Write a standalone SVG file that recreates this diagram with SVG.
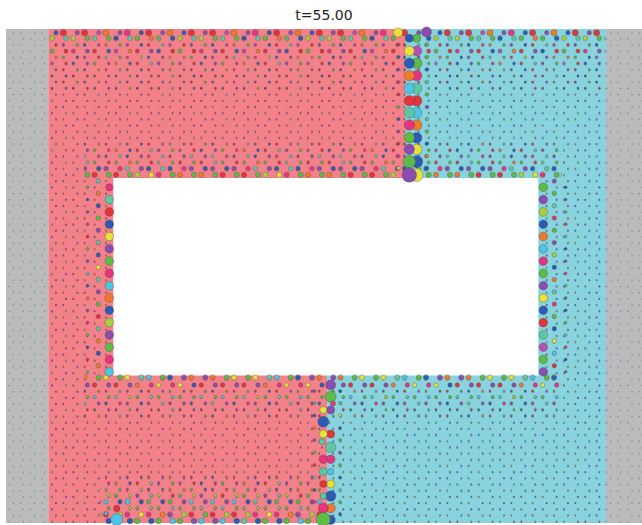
<svg xmlns="http://www.w3.org/2000/svg" width="642" height="525" viewBox="0 0 642 525">
<style>
.t{font-family:"DejaVu Sans",sans-serif;font-size:14px;fill:#222}
circle{stroke:#444;stroke-opacity:.7;stroke-width:.5}
#bulk circle,#gdots circle{stroke:none}
.a{fill:#E5323B}.b{fill:#2B5BB5}.c{fill:#5DBB46}.d{fill:#E6E23A}.e{fill:#8B4DB0}.f{fill:#F07A2A}.g{fill:#4FC4E4}.h{fill:#E8337F}.i{fill:#5EC7A3}.j{fill:#A9D13F}.k{fill:#B94FB5}
.m1{fill:#6d2a45;fill-opacity:.7}.m2{fill:#244a7a;fill-opacity:.7}.m3{fill:#2f6e4a;fill-opacity:.65}.m4{fill:#7a4a1e;fill-opacity:.65}.m5{fill:#4a2e82;fill-opacity:.7}.m6{fill:#3b3b3b;fill-opacity:.6}
</style>
<defs>
<pattern id="bulk" patternUnits="userSpaceOnUse" x="50" y="29.6" width="64" height="24.76">
<circle cx="6" cy="3.1" r="1.05" class="m1"/><circle cx="13.3" cy="3.1" r="1.05" class="m2"/><circle cx="27.33" cy="3.1" r="1.05" class="m6"/><circle cx="34.63" cy="3.1" r="1.05" class="m3"/><circle cx="48.67" cy="3.1" r="1.05" class="m5"/><circle cx="55.97" cy="3.1" r="1.05" class="m4"/>
<circle cx="16" cy="9.29" r="1.05" class="m3"/><circle cx="23.3" cy="9.29" r="1.05" class="m6"/><circle cx="37.33" cy="9.29" r="1.05" class="m1"/><circle cx="44.63" cy="9.29" r="1.05" class="m2"/><circle cx="58.67" cy="9.29" r="1.05" class="m6"/><circle cx="1.97" cy="9.29" r="1.05" class="m5"/>
<circle cx="6" cy="15.48" r="1.05" class="m6"/><circle cx="13.3" cy="15.48" r="1.05" class="m4"/><circle cx="27.33" cy="15.48" r="1.05" class="m2"/><circle cx="34.63" cy="15.48" r="1.05" class="m1"/><circle cx="48.67" cy="15.48" r="1.05" class="m3"/><circle cx="55.97" cy="15.48" r="1.05" class="m6"/>
<circle cx="16" cy="21.67" r="1.05" class="m5"/><circle cx="23.3" cy="21.67" r="1.05" class="m1"/><circle cx="37.33" cy="21.67" r="1.05" class="m6"/><circle cx="44.63" cy="21.67" r="1.05" class="m4"/><circle cx="58.67" cy="21.67" r="1.05" class="m2"/><circle cx="1.97" cy="21.67" r="1.05" class="m3"/>
</pattern>
<pattern id="gdots" patternUnits="userSpaceOnUse" x="50" y="29.6" width="64" height="24.76">
<g fill="#7a7a80">
<circle cx="6" cy="3.1" r="0.7"/><circle cx="13.3" cy="3.1" r="0.7"/><circle cx="27.33" cy="3.1" r="0.7"/><circle cx="34.63" cy="3.1" r="0.7"/><circle cx="48.67" cy="3.1" r="0.7"/><circle cx="55.97" cy="3.1" r="0.7"/>
<circle cx="16" cy="9.29" r="0.7"/><circle cx="23.3" cy="9.29" r="0.7"/><circle cx="37.33" cy="9.29" r="0.7"/><circle cx="44.63" cy="9.29" r="0.7"/><circle cx="58.67" cy="9.29" r="0.7"/><circle cx="1.97" cy="9.29" r="0.7"/>
<circle cx="6" cy="15.48" r="0.7"/><circle cx="13.3" cy="15.48" r="0.7"/><circle cx="27.33" cy="15.48" r="0.7"/><circle cx="34.63" cy="15.48" r="0.7"/><circle cx="48.67" cy="15.48" r="0.7"/><circle cx="55.97" cy="15.48" r="0.7"/>
<circle cx="16" cy="21.67" r="0.7"/><circle cx="23.3" cy="21.67" r="0.7"/><circle cx="37.33" cy="21.67" r="0.7"/><circle cx="44.63" cy="21.67" r="0.7"/><circle cx="58.67" cy="21.67" r="0.7"/><circle cx="1.97" cy="21.67" r="0.7"/>
</g>
</pattern>
<pattern id="P1" patternUnits="userSpaceOnUse" x="52" width="128" height="8">
<circle cx="4" cy="4" r="2.2" class="b"/><circle cx="11.3" cy="4" r="3.1" class="a"/><circle cx="25.3" cy="4" r="2.2" class="e"/><circle cx="32.6" cy="4" r="3.1" class="a"/><circle cx="46.7" cy="4" r="2.2" class="k"/><circle cx="54" cy="4" r="3.1" class="f"/><circle cx="68" cy="4" r="2.2" class="e"/><circle cx="75.3" cy="4" r="3.1" class="h"/><circle cx="89.3" cy="4" r="2.2" class="b"/><circle cx="96.6" cy="4" r="3.1" class="a"/><circle cx="110.7" cy="4" r="2.2" class="e"/><circle cx="118" cy="4" r="3.1" class="f"/>
</pattern>
<pattern id="P2" patternUnits="userSpaceOnUse" x="62" width="128" height="8">
<circle cx="4" cy="4" r="2.4" class="i"/><circle cx="11.3" cy="4" r="2.4" class="j"/><circle cx="25.3" cy="4" r="2.4" class="c"/><circle cx="32.6" cy="4" r="2.4" class="i"/><circle cx="46.7" cy="4" r="2.4" class="c"/><circle cx="54" cy="4" r="2.4" class="b"/><circle cx="68" cy="4" r="2.4" class="i"/><circle cx="75.3" cy="4" r="2.4" class="c"/><circle cx="89.3" cy="4" r="2.4" class="f"/><circle cx="96.6" cy="4" r="2.4" class="c"/><circle cx="110.7" cy="4" r="2.4" class="b"/><circle cx="118" cy="4" r="2.4" class="j"/>
</pattern>
<pattern id="P3" patternUnits="userSpaceOnUse" x="52" width="128" height="8">
<circle cx="4" cy="4" r="1.4" class="a"/><circle cx="11.3" cy="4" r="1.4" class="e"/><circle cx="25.3" cy="4" r="1.4" class="c"/><circle cx="32.6" cy="4" r="1.4" class="b"/><circle cx="46.7" cy="4" r="1.4" class="h"/><circle cx="54" cy="4" r="1.4" class="f"/><circle cx="68" cy="4" r="1.4" class="c"/><circle cx="75.3" cy="4" r="1.4" class="e"/><circle cx="89.3" cy="4" r="1.4" class="b"/><circle cx="96.6" cy="4" r="1.4" class="a"/><circle cx="110.7" cy="4" r="1.4" class="i"/><circle cx="118" cy="4" r="1.4" class="k"/>
</pattern>
<pattern id="P4" patternUnits="userSpaceOnUse" x="62" width="128" height="8">
<circle cx="4" cy="4" r="2" class="a"/><circle cx="11.3" cy="4" r="2" class="h"/><circle cx="25.3" cy="4" r="2" class="e"/><circle cx="32.6" cy="4" r="2" class="a"/><circle cx="46.7" cy="4" r="2" class="b"/><circle cx="54" cy="4" r="2" class="k"/><circle cx="68" cy="4" r="2" class="f"/><circle cx="75.3" cy="4" r="2" class="a"/><circle cx="89.3" cy="4" r="2" class="e"/><circle cx="96.6" cy="4" r="2" class="b"/><circle cx="110.7" cy="4" r="2" class="a"/><circle cx="118" cy="4" r="2" class="c"/>
</pattern>
<pattern id="P5" patternUnits="userSpaceOnUse" x="52" width="128" height="8">
<circle cx="4" cy="4" r="1.3" class="f"/><circle cx="11.3" cy="4" r="1.3" class="c"/><circle cx="25.3" cy="4" r="1.3" class="b"/><circle cx="32.6" cy="4" r="1.3" class="e"/><circle cx="46.7" cy="4" r="1.3" class="a"/><circle cx="54" cy="4" r="1.3" class="i"/><circle cx="68" cy="4" r="1.3" class="c"/><circle cx="75.3" cy="4" r="1.3" class="h"/><circle cx="89.3" cy="4" r="1.3" class="j"/><circle cx="96.6" cy="4" r="1.3" class="b"/><circle cx="110.7" cy="4" r="1.3" class="e"/><circle cx="118" cy="4" r="1.3" class="f"/>
</pattern>
<pattern id="P6" patternUnits="userSpaceOnUse" x="62" width="128" height="8">
<circle cx="4" cy="4" r="1.4" class="a"/><circle cx="11.3" cy="4" r="1.4" class="b"/><circle cx="25.3" cy="4" r="1.4" class="e"/><circle cx="32.6" cy="4" r="1.4" class="c"/><circle cx="46.7" cy="4" r="1.4" class="h"/><circle cx="54" cy="4" r="1.4" class="f"/><circle cx="68" cy="4" r="1.4" class="b"/><circle cx="75.3" cy="4" r="1.4" class="a"/><circle cx="89.3" cy="4" r="1.4" class="i"/><circle cx="96.6" cy="4" r="1.4" class="e"/><circle cx="110.7" cy="4" r="1.4" class="c"/><circle cx="118" cy="4" r="1.4" class="k"/>
</pattern>
<pattern id="P7" patternUnits="userSpaceOnUse" x="52" width="128" height="8">
<circle cx="4" cy="4" r="1.1" class="e"/><circle cx="11.3" cy="4" r="1.1" class="a"/><circle cx="25.3" cy="4" r="1.1" class="c"/><circle cx="32.6" cy="4" r="1.1" class="b"/><circle cx="46.7" cy="4" r="1.1" class="f"/><circle cx="54" cy="4" r="1.1" class="h"/><circle cx="68" cy="4" r="1.1" class="i"/><circle cx="75.3" cy="4" r="1.1" class="e"/><circle cx="89.3" cy="4" r="1.1" class="b"/><circle cx="96.6" cy="4" r="1.1" class="a"/><circle cx="110.7" cy="4" r="1.1" class="k"/><circle cx="118" cy="4" r="1.1" class="c"/>
</pattern>
<pattern id="P8" patternUnits="userSpaceOnUse" x="62" width="128" height="8">
<circle cx="4" cy="4" r="1.1" class="b"/><circle cx="11.3" cy="4" r="1.1" class="m1"/><circle cx="25.3" cy="4" r="1.1" class="a"/><circle cx="32.6" cy="4" r="1.1" class="m3"/><circle cx="46.7" cy="4" r="1.1" class="e"/><circle cx="54" cy="4" r="1.1" class="m2"/><circle cx="68" cy="4" r="1.1" class="c"/><circle cx="75.3" cy="4" r="1.1" class="m5"/><circle cx="89.3" cy="4" r="1.1" class="h"/><circle cx="96.6" cy="4" r="1.1" class="m4"/><circle cx="110.7" cy="4" r="1.1" class="i"/><circle cx="118" cy="4" r="1.1" class="m1"/>
</pattern>
<pattern id="H1" patternUnits="userSpaceOnUse" x="62" width="128" height="8">
<circle cx="4" cy="4" r="2.6" class="c"/><circle cx="11.3" cy="4" r="2.6" class="f"/><circle cx="25.3" cy="4" r="2.6" class="c"/><circle cx="32.6" cy="4" r="2.6" class="a"/><circle cx="46.7" cy="4" r="2.6" class="c"/><circle cx="54" cy="4" r="2.6" class="a"/><circle cx="68" cy="4" r="2.6" class="c"/><circle cx="75.3" cy="4" r="2.6" class="j"/><circle cx="89.3" cy="4" r="2.6" class="d"/><circle cx="96.6" cy="4" r="2.6" class="h"/><circle cx="110.7" cy="4" r="2.6" class="c"/><circle cx="118" cy="4" r="2.6" class="f"/>
</pattern>
<pattern id="H2" patternUnits="userSpaceOnUse" x="52" width="128" height="8">
<circle cx="4" cy="4" r="2.3" class="h"/><circle cx="11.3" cy="4" r="2.3" class="e"/><circle cx="25.3" cy="4" r="2.3" class="b"/><circle cx="32.6" cy="4" r="2.3" class="e"/><circle cx="46.7" cy="4" r="2.3" class="b"/><circle cx="54" cy="4" r="2.3" class="e"/><circle cx="68" cy="4" r="2.3" class="h"/><circle cx="75.3" cy="4" r="2.3" class="i"/><circle cx="89.3" cy="4" r="2.3" class="e"/><circle cx="96.6" cy="4" r="2.3" class="b"/><circle cx="110.7" cy="4" r="2.3" class="i"/><circle cx="118" cy="4" r="2.3" class="b"/>
</pattern>
<pattern id="H3" patternUnits="userSpaceOnUse" x="62" width="128" height="8">
<circle cx="4" cy="4" r="1.5" class="c"/><circle cx="11.3" cy="4" r="1.5" class="a"/><circle cx="25.3" cy="4" r="1.5" class="i"/><circle cx="32.6" cy="4" r="1.5" class="c"/><circle cx="46.7" cy="4" r="1.5" class="a"/><circle cx="54" cy="4" r="1.5" class="c"/><circle cx="68" cy="4" r="1.5" class="f"/><circle cx="75.3" cy="4" r="1.5" class="c"/><circle cx="89.3" cy="4" r="1.5" class="a"/><circle cx="96.6" cy="4" r="1.5" class="i"/><circle cx="110.7" cy="4" r="1.5" class="c"/><circle cx="118" cy="4" r="1.5" class="a"/>
</pattern>
<pattern id="H4" patternUnits="userSpaceOnUse" x="52" width="128" height="8">
<circle cx="4" cy="4" r="1.4" class="e"/><circle cx="11.3" cy="4" r="1.4" class="i"/><circle cx="25.3" cy="4" r="1.4" class="e"/><circle cx="32.6" cy="4" r="1.4" class="g"/><circle cx="46.7" cy="4" r="1.4" class="h"/><circle cx="54" cy="4" r="1.4" class="e"/><circle cx="68" cy="4" r="1.4" class="i"/><circle cx="75.3" cy="4" r="1.4" class="b"/><circle cx="89.3" cy="4" r="1.4" class="e"/><circle cx="96.6" cy="4" r="1.4" class="h"/><circle cx="110.7" cy="4" r="1.4" class="g"/><circle cx="118" cy="4" r="1.4" class="e"/>
</pattern>
<pattern id="B1" patternUnits="userSpaceOnUse" x="52" width="128" height="8">
<circle cx="4" cy="4" r="2.6" class="e"/><circle cx="11.3" cy="4" r="2.6" class="f"/><circle cx="25.3" cy="4" r="2.6" class="e"/><circle cx="32.6" cy="4" r="2.6" class="f"/><circle cx="46.7" cy="4" r="2.6" class="c"/><circle cx="54" cy="4" r="2.6" class="d"/><circle cx="68" cy="4" r="2.6" class="c"/><circle cx="75.3" cy="4" r="2.6" class="d"/><circle cx="89.3" cy="4" r="2.6" class="i"/><circle cx="96.6" cy="4" r="2.6" class="g"/><circle cx="110.7" cy="4" r="2.6" class="c"/><circle cx="118" cy="4" r="2.6" class="b"/>
</pattern>
<pattern id="B2" patternUnits="userSpaceOnUse" x="62" width="128" height="8">
<circle cx="4" cy="4" r="2.2" class="b"/><circle cx="11.3" cy="4" r="2.2" class="a"/><circle cx="25.3" cy="4" r="2.2" class="e"/><circle cx="32.6" cy="4" r="2.2" class="a"/><circle cx="46.7" cy="4" r="2.2" class="e"/><circle cx="54" cy="4" r="2.2" class="a"/><circle cx="68" cy="4" r="2.2" class="e"/><circle cx="75.3" cy="4" r="2.2" class="f"/><circle cx="89.3" cy="4" r="2.2" class="h"/><circle cx="96.6" cy="4" r="2.2" class="d"/><circle cx="110.7" cy="4" r="2.2" class="h"/><circle cx="118" cy="4" r="2.2" class="d"/>
</pattern>
<pattern id="B3" patternUnits="userSpaceOnUse" x="62" width="128" height="8">
<circle cx="4" cy="4" r="1.6" class="c"/><circle cx="11.3" cy="4" r="1.6" class="i"/><circle cx="25.3" cy="4" r="1.6" class="c"/><circle cx="32.6" cy="4" r="1.6" class="g"/><circle cx="46.7" cy="4" r="1.6" class="c"/><circle cx="54" cy="4" r="1.6" class="i"/><circle cx="68" cy="4" r="1.6" class="j"/><circle cx="75.3" cy="4" r="1.6" class="c"/><circle cx="89.3" cy="4" r="1.6" class="i"/><circle cx="96.6" cy="4" r="1.6" class="c"/><circle cx="110.7" cy="4" r="1.6" class="g"/><circle cx="118" cy="4" r="1.6" class="c"/>
</pattern>
<pattern id="B4" patternUnits="userSpaceOnUse" x="52" width="128" height="8">
<circle cx="4" cy="4" r="1.5" class="e"/><circle cx="11.3" cy="4" r="1.5" class="b"/><circle cx="25.3" cy="4" r="1.5" class="e"/><circle cx="32.6" cy="4" r="1.5" class="i"/><circle cx="46.7" cy="4" r="1.5" class="e"/><circle cx="54" cy="4" r="1.5" class="b"/><circle cx="68" cy="4" r="1.5" class="h"/><circle cx="75.3" cy="4" r="1.5" class="e"/><circle cx="89.3" cy="4" r="1.5" class="b"/><circle cx="96.6" cy="4" r="1.5" class="e"/><circle cx="110.7" cy="4" r="1.5" class="i"/><circle cx="118" cy="4" r="1.5" class="e"/>
</pattern>
<pattern id="W1" patternUnits="userSpaceOnUse" x="62" width="128" height="8">
<circle cx="4" cy="4" r="2.8" class="e"/><circle cx="11.3" cy="4" r="2.8" class="g"/><circle cx="25.3" cy="4" r="2.8" class="e"/><circle cx="32.6" cy="4" r="2.8" class="g"/><circle cx="46.7" cy="4" r="2.8" class="b"/><circle cx="54" cy="4" r="2.8" class="i"/><circle cx="68" cy="4" r="2.8" class="b"/><circle cx="75.3" cy="4" r="2.8" class="c"/><circle cx="89.3" cy="4" r="2.8" class="b"/><circle cx="96.6" cy="4" r="2.8" class="c"/><circle cx="110.7" cy="4" r="2.8" class="g"/><circle cx="118" cy="4" r="2.8" class="c"/>
</pattern>
<pattern id="W2" patternUnits="userSpaceOnUse" x="52" width="128" height="8">
<circle cx="4" cy="4" r="2.6" class="j"/><circle cx="11.3" cy="4" r="2.6" class="a"/><circle cx="25.3" cy="4" r="2.6" class="c"/><circle cx="32.6" cy="4" r="2.6" class="a"/><circle cx="46.7" cy="4" r="2.6" class="j"/><circle cx="54" cy="4" r="2.6" class="a"/><circle cx="68" cy="4" r="2.6" class="j"/><circle cx="75.3" cy="4" r="2.6" class="h"/><circle cx="89.3" cy="4" r="2.6" class="d"/><circle cx="96.6" cy="4" r="2.6" class="h"/><circle cx="110.7" cy="4" r="2.6" class="f"/><circle cx="118" cy="4" r="2.6" class="e"/>
</pattern>
<pattern id="W3" patternUnits="userSpaceOnUse" x="52" width="128" height="8">
<circle cx="4" cy="4" r="2.2" class="e"/><circle cx="11.3" cy="4" r="2.2" class="g"/><circle cx="25.3" cy="4" r="2.2" class="e"/><circle cx="32.6" cy="4" r="2.2" class="g"/><circle cx="46.7" cy="4" r="2.2" class="e"/><circle cx="54" cy="4" r="2.2" class="g"/><circle cx="68" cy="4" r="2.2" class="b"/><circle cx="75.3" cy="4" r="2.2" class="i"/><circle cx="89.3" cy="4" r="2.2" class="b"/><circle cx="96.6" cy="4" r="2.2" class="c"/><circle cx="110.7" cy="4" r="2.2" class="b"/><circle cx="118" cy="4" r="2.2" class="c"/>
</pattern>
<pattern id="W4" patternUnits="userSpaceOnUse" x="62" width="128" height="8">
<circle cx="4" cy="4" r="1.7" class="j"/><circle cx="11.3" cy="4" r="1.7" class="e"/><circle cx="25.3" cy="4" r="1.7" class="j"/><circle cx="32.6" cy="4" r="1.7" class="a"/><circle cx="46.7" cy="4" r="1.7" class="j"/><circle cx="54" cy="4" r="1.7" class="c"/><circle cx="68" cy="4" r="1.7" class="j"/><circle cx="75.3" cy="4" r="1.7" class="e"/><circle cx="89.3" cy="4" r="1.7" class="i"/><circle cx="96.6" cy="4" r="1.7" class="j"/><circle cx="110.7" cy="4" r="1.7" class="a"/><circle cx="118" cy="4" r="1.7" class="c"/>
</pattern>
</defs>

<text class="t" x="324" y="20" text-anchor="middle">t=55.00</text>

<g id="background">
<rect x="6" y="29" width="42.3" height="494" fill="#BBBBBE"/>
<rect x="606" y="29" width="36" height="494" fill="#BBBBBE"/>
<rect x="48.3" y="29" width="557.7" height="494" fill="#F3818A"/>
<polygon points="405,29 606,29 606,523 327,523 327,376 405,178" fill="#88D3DE"/>
<rect x="6" y="29" width="42.3" height="494" fill="url(#gdots)"/>
<rect x="606" y="29" width="36" height="494" fill="url(#gdots)"/>
<rect x="48.3" y="29" width="557.7" height="494" fill="url(#bulk)"/>
</g>

<rect id="obstacle" x="113.3" y="178" width="425" height="197.5" fill="#FFFFFF"/>

<g id="wall-rows">
<rect x="48" y="0" width="557" height="8" fill="url(#P1)" transform="translate(0,28.7)"/>
<rect x="48" y="0" width="557" height="8" fill="url(#P2)" transform="translate(0,34.3)"/>
<rect x="48" y="0" width="557" height="8" fill="url(#P3)" transform="translate(0,40.9)"/>
<rect x="48" y="0" width="557" height="8" fill="url(#P4)" transform="translate(0,47.1)"/>
<rect x="48" y="0" width="557" height="8" fill="url(#P5)" transform="translate(0,53.3)"/>
<rect x="48" y="0" width="557" height="8" fill="url(#P6)" transform="translate(0,59.5)"/>
<rect x="48" y="0" width="557" height="8" fill="url(#P7)" transform="translate(0,65.7)"/>
<rect x="48" y="0" width="557" height="8" fill="url(#P8)" transform="translate(0,71.9)"/>
<rect x="48" y="0" width="557" height="8" fill="url(#P7)" transform="translate(0,78.1)"/>
<rect x="48" y="0" width="557" height="8" fill="url(#P8)" transform="translate(0,84.3)"/>
<rect x="84" y="0" width="478" height="8" fill="url(#P7)" transform="translate(0,140.1)"/>
<rect x="84" y="0" width="478" height="8" fill="url(#P6)" transform="translate(0,146.3)"/>
<rect x="84" y="0" width="478" height="8" fill="url(#H4)" transform="translate(0,152.3)"/>
<rect x="84" y="0" width="478" height="8" fill="url(#H3)" transform="translate(0,158.4)"/>
<rect x="84" y="0" width="478" height="8" fill="url(#H2)" transform="translate(0,164.6)"/>
<rect x="84" y="0" width="478" height="8" fill="url(#H1)" transform="translate(0,170.8)"/>
<rect x="84" y="0" width="478" height="8" fill="url(#P7)" transform="translate(0,411.7)"/>
<rect x="84" y="0" width="478" height="8" fill="url(#P8)" transform="translate(0,405.5)"/>
<rect x="84" y="0" width="478" height="8" fill="url(#B4)" transform="translate(0,399.3)"/>
<rect x="84" y="0" width="478" height="8" fill="url(#B3)" transform="translate(0,393)"/>
<rect x="84" y="0" width="478" height="8" fill="url(#P7)" transform="translate(0,387)"/>
<rect x="84" y="0" width="478" height="8" fill="url(#B2)" transform="translate(0,381)"/>
<rect x="84" y="0" width="478" height="8" fill="url(#B1)" transform="translate(0,373.5)"/>
<rect x="100" y="0" width="222" height="8" fill="url(#P7)" transform="translate(0,472.9)"/>
<rect x="100" y="0" width="222" height="8" fill="url(#P6)" transform="translate(0,479.1)"/>
<rect x="100" y="0" width="222" height="8" fill="url(#P5)" transform="translate(0,485.3)"/>
<rect x="100" y="0" width="222" height="8" fill="url(#W4)" transform="translate(0,491.5)"/>
<rect x="100" y="0" width="222" height="8" fill="url(#W3)" transform="translate(0,497.7)"/>
<rect x="100" y="0" width="222" height="8" fill="url(#B3)" transform="translate(0,503.9)"/>
<rect x="100" y="0" width="222" height="8" fill="url(#W2)" transform="translate(0,510.5)"/>
<rect x="100" y="0" width="222" height="8" fill="url(#W1)" transform="translate(0,517)"/>
</g>

<g id="left-wall">
<circle cx="87.5" cy="187.3" r="1.4" class="c"/><circle cx="87.5" cy="199.6" r="1.4" class="b"/><circle cx="87.5" cy="211.9" r="1.4" class="e"/><circle cx="87.5" cy="224.2" r="1.4" class="h"/><circle cx="87.5" cy="236.5" r="1.4" class="a"/><circle cx="87.5" cy="248.8" r="1.4" class="c"/><circle cx="87.5" cy="261.1" r="1.4" class="e"/><circle cx="87.5" cy="273.4" r="1.4" class="i"/><circle cx="87.5" cy="285.7" r="1.4" class="b"/><circle cx="87.5" cy="298" r="1.4" class="f"/><circle cx="87.5" cy="310.3" r="1.4" class="e"/><circle cx="87.5" cy="322.6" r="1.4" class="h"/><circle cx="87.5" cy="334.9" r="1.4" class="c"/><circle cx="87.5" cy="347.2" r="1.4" class="b"/><circle cx="87.5" cy="359.5" r="1.4" class="a"/><circle cx="87.5" cy="371.8" r="1.4" class="i"/>
<circle cx="98.3" cy="181.1" r="2.2" class="i"/><circle cx="98.3" cy="193.4" r="2.2" class="f"/><circle cx="98.3" cy="205.7" r="2.2" class="b"/><circle cx="98.3" cy="218" r="2.2" class="c"/><circle cx="98.3" cy="230.3" r="2.2" class="e"/><circle cx="98.3" cy="242.6" r="2.2" class="i"/><circle cx="98.3" cy="254.9" r="2.2" class="b"/><circle cx="98.3" cy="267.2" r="2.2" class="d"/><circle cx="98.3" cy="279.5" r="2.2" class="i"/><circle cx="98.3" cy="291.8" r="2.2" class="e"/><circle cx="98.3" cy="304.1" r="2.2" class="c"/><circle cx="98.3" cy="316.4" r="2.2" class="a"/><circle cx="98.3" cy="328.7" r="2.2" class="i"/><circle cx="98.3" cy="341" r="2.2" class="f"/><circle cx="98.3" cy="353.3" r="2.2" class="b"/><circle cx="98.3" cy="365.6" r="2.2" class="f"/>
<circle cx="109.3" cy="187.3" r="3.6" class="h"/><circle cx="109.3" cy="199.6" r="4.3" class="i"/><circle cx="109.3" cy="211.9" r="4.3" class="a"/><circle cx="109.3" cy="224.2" r="4.3" class="b"/><circle cx="109.3" cy="236.5" r="4.3" class="d"/><circle cx="109.3" cy="248.8" r="4.3" class="e"/><circle cx="109.3" cy="261.1" r="4.3" class="c"/><circle cx="109.3" cy="273.4" r="4.3" class="h"/><circle cx="109.3" cy="285.7" r="4.3" class="g"/><circle cx="109.3" cy="298" r="4.3" class="f"/><circle cx="109.3" cy="310.3" r="4.3" class="b"/><circle cx="109.3" cy="322.6" r="4.3" class="j"/><circle cx="109.3" cy="334.9" r="4.3" class="e"/><circle cx="109.3" cy="347.2" r="4.3" class="c"/><circle cx="109.3" cy="359.5" r="4.3" class="h"/><circle cx="109.3" cy="371.8" r="4.3" class="g"/>
</g>

<g id="right-wall">
<circle cx="565.7" cy="187.3" r="1.4" class="b"/><circle cx="565.7" cy="199.6" r="1.4" class="e"/><circle cx="565.7" cy="211.9" r="1.4" class="c"/><circle cx="565.7" cy="224.2" r="1.4" class="a"/><circle cx="565.7" cy="236.5" r="1.4" class="i"/><circle cx="565.7" cy="248.8" r="1.4" class="b"/><circle cx="565.7" cy="261.1" r="1.4" class="e"/><circle cx="565.7" cy="273.4" r="1.4" class="h"/><circle cx="565.7" cy="285.7" r="1.4" class="c"/><circle cx="565.7" cy="298" r="1.4" class="e"/><circle cx="565.7" cy="310.3" r="1.4" class="b"/><circle cx="565.7" cy="322.6" r="1.4" class="c"/><circle cx="565.7" cy="334.9" r="1.4" class="i"/><circle cx="565.7" cy="347.2" r="1.4" class="a"/><circle cx="565.7" cy="359.5" r="1.4" class="b"/><circle cx="565.7" cy="371.8" r="1.4" class="e"/>
<circle cx="554.3" cy="181.1" r="2.2" class="e"/><circle cx="554.3" cy="193.4" r="2.2" class="c"/><circle cx="554.3" cy="205.7" r="2.2" class="i"/><circle cx="554.3" cy="218" r="2.2" class="h"/><circle cx="554.3" cy="230.3" r="2.2" class="c"/><circle cx="554.3" cy="242.6" r="2.2" class="e"/><circle cx="554.3" cy="254.9" r="2.2" class="j"/><circle cx="554.3" cy="267.2" r="2.2" class="b"/><circle cx="554.3" cy="279.5" r="2.2" class="f"/><circle cx="554.3" cy="291.8" r="2.2" class="i"/><circle cx="554.3" cy="304.1" r="2.2" class="h"/><circle cx="554.3" cy="316.4" r="2.2" class="c"/><circle cx="554.3" cy="328.7" r="2.2" class="b"/><circle cx="554.3" cy="341" r="2.2" class="d"/><circle cx="554.3" cy="353.3" r="2.2" class="g"/><circle cx="554.3" cy="365.6" r="2.2" class="a"/>
<circle cx="543.3" cy="187.3" r="4.3" class="c"/><circle cx="543.3" cy="199.6" r="4.3" class="e"/><circle cx="543.3" cy="211.9" r="4.3" class="j"/><circle cx="543.3" cy="224.2" r="4.3" class="b"/><circle cx="543.3" cy="236.5" r="4.3" class="f"/><circle cx="543.3" cy="248.8" r="4.3" class="g"/><circle cx="543.3" cy="261.1" r="4.3" class="h"/><circle cx="543.3" cy="273.4" r="4.3" class="c"/><circle cx="543.3" cy="285.7" r="4.3" class="e"/><circle cx="543.3" cy="298" r="4.3" class="d"/><circle cx="543.3" cy="310.3" r="4.3" class="b"/><circle cx="543.3" cy="322.6" r="4.3" class="a"/><circle cx="543.3" cy="334.9" r="4.3" class="i"/><circle cx="543.3" cy="347.2" r="4.3" class="k"/><circle cx="543.3" cy="359.5" r="4.3" class="c"/><circle cx="543.3" cy="371.8" r="4.3" class="e"/>
</g>

<g id="top-interface">
<circle cx="398.5" cy="44.5" r="1.6" class="a"/><circle cx="398.5" cy="57" r="1.6" class="b"/><circle cx="398.5" cy="69.5" r="1.6" class="e"/><circle cx="398.5" cy="82" r="1.6" class="h"/><circle cx="398.5" cy="94.5" r="1.6" class="a"/><circle cx="398.5" cy="107" r="1.6" class="c"/><circle cx="398.5" cy="119" r="1.6" class="b"/><circle cx="398.5" cy="131.5" r="1.6" class="e"/><circle cx="398.5" cy="143.5" r="1.6" class="a"/><circle cx="398.5" cy="156" r="1.6" class="h"/><circle cx="398.5" cy="168" r="1.6" class="d"/>
<circle cx="427" cy="44.5" r="1.8" class="c"/><circle cx="427" cy="57" r="1.8" class="c"/><circle cx="427" cy="69.5" r="1.8" class="b"/><circle cx="427" cy="82" r="1.8" class="i"/><circle cx="427" cy="94.5" r="1.8" class="c"/><circle cx="427" cy="107" r="1.8" class="e"/><circle cx="427" cy="119" r="1.8" class="i"/><circle cx="427" cy="131.5" r="1.8" class="c"/><circle cx="427" cy="143.5" r="1.8" class="b"/><circle cx="427" cy="156" r="1.8" class="f"/><circle cx="427" cy="168" r="1.8" class="b"/>
<circle cx="416.7" cy="38.3" r="4" class="c"/><circle cx="416.7" cy="51" r="5" class="k"/><circle cx="416.7" cy="63.3" r="5.2" class="c"/><circle cx="416.7" cy="75.6" r="5.2" class="h"/><circle cx="416.7" cy="88.3" r="5.2" class="i"/><circle cx="416.7" cy="100.7" r="5.2" class="a"/><circle cx="416.7" cy="112.7" r="5.2" class="g"/><circle cx="416.7" cy="125" r="5.2" class="f"/><circle cx="416.7" cy="137.7" r="5.2" class="b"/><circle cx="416.7" cy="149.3" r="5.2" class="d"/><circle cx="416.7" cy="161.7" r="6" class="b"/><circle cx="416.7" cy="175" r="6.5" class="d"/>
<circle cx="409.3" cy="38.3" r="4" class="b"/><circle cx="409.3" cy="51" r="5" class="d"/><circle cx="409.3" cy="63.3" r="5.2" class="b"/><circle cx="409.3" cy="75.6" r="5.2" class="f"/><circle cx="409.3" cy="88.3" r="5.2" class="g"/><circle cx="409.3" cy="100.7" r="5.2" class="a"/><circle cx="409.3" cy="112.7" r="5.2" class="i"/><circle cx="409.3" cy="125" r="5.2" class="h"/><circle cx="409.3" cy="137.7" r="5.2" class="c"/><circle cx="409.3" cy="149.3" r="5.2" class="e"/><circle cx="409.3" cy="161.7" r="6.3" class="c"/><circle cx="409.3" cy="175" r="7.3" class="e"/>
<circle cx="398" cy="32.5" r="4.6" class="d"/><circle cx="426.5" cy="32" r="5" class="e"/>
</g>

<g id="bottom-interface">
<circle cx="314.5" cy="391" r="1.5" class="e"/><circle cx="314.5" cy="403" r="1.5" class="c"/><circle cx="314.5" cy="415.5" r="1.5" class="b"/><circle cx="314.5" cy="428" r="1.5" class="f"/><circle cx="314.5" cy="440" r="1.5" class="e"/><circle cx="314.5" cy="452.5" r="1.5" class="c"/><circle cx="314.5" cy="465" r="1.5" class="a"/><circle cx="314.5" cy="477.5" r="1.5" class="i"/><circle cx="314.5" cy="490" r="1.5" class="b"/><circle cx="314.5" cy="502" r="1.5" class="h"/>
<circle cx="340" cy="391" r="1.5" class="b"/><circle cx="340" cy="403" r="1.5" class="i"/><circle cx="340" cy="415.5" r="1.5" class="d"/><circle cx="340" cy="428" r="1.5" class="b"/><circle cx="340" cy="440" r="1.5" class="c"/><circle cx="340" cy="452.5" r="1.5" class="e"/><circle cx="340" cy="465" r="1.5" class="c"/><circle cx="340" cy="477.5" r="1.5" class="b"/><circle cx="340" cy="490" r="1.5" class="i"/><circle cx="340" cy="502" r="1.5" class="c"/><circle cx="340" cy="514" r="1.5" class="b"/>
<circle cx="330.7" cy="385" r="5" class="e"/><circle cx="330.7" cy="396.7" r="5.5" class="c"/><circle cx="333" cy="403.5" r="2.5" class="h"/><circle cx="330.7" cy="410" r="4" class="e"/><circle cx="330.7" cy="434" r="4" class="a"/><circle cx="330.7" cy="447.3" r="5.2" class="i"/><circle cx="330.7" cy="459.3" r="4.3" class="h"/><circle cx="330.7" cy="471.7" r="3.2" class="g"/><circle cx="330.7" cy="484" r="4" class="d"/><circle cx="330.7" cy="496" r="5.2" class="b"/><circle cx="330.7" cy="508.3" r="4.6" class="f"/><circle cx="330.7" cy="520" r="4.6" class="b"/>
<circle cx="323.3" cy="410" r="3.6" class="d"/><circle cx="323.3" cy="421.7" r="5.5" class="b"/><circle cx="323.3" cy="434" r="4" class="d"/><circle cx="322" cy="441.5" r="3" class="i"/><circle cx="323.3" cy="459.3" r="4.3" class="h"/><circle cx="323.3" cy="471.7" r="4" class="i"/><circle cx="323.3" cy="484" r="3.6" class="a"/><circle cx="323.3" cy="496" r="3.2" class="i"/><circle cx="323.3" cy="508.3" r="5" class="h"/><circle cx="323.3" cy="519.5" r="7" class="c"/>
</g>

<g id="bottom-left">
<circle cx="116.7" cy="508.5" r="3.2" class="a"/><circle cx="127.7" cy="501.7" r="2.6" class="g"/><circle cx="106" cy="513.5" r="1.8" class="g"/><circle cx="116.7" cy="519.5" r="6" class="g"/>
</g>
</svg>
